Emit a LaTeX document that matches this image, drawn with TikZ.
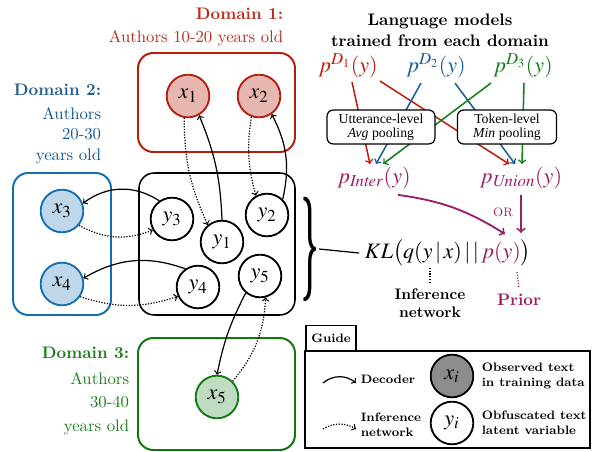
\documentclass[tikz,border=0pt,11pt]{standalone}
\usepackage{amsmath}
\usepackage{mathptmx}
\usepackage[no-math]{fontspec}
\setmainfont{Latin Modern Roman}
\newfontfamily\tms{Liberation Serif}
\usetikzlibrary{positioning,calc}

\definecolor{domred}{RGB}{180,30,10}
\definecolor{domredtext}{RGB}{185,45,30}
\definecolor{domredfill}{RGB}{232,182,176}
\definecolor{domblue}{RGB}{20,110,175}
\definecolor{dombluetext}{RGB}{35,95,140}
\definecolor{dombluefill}{RGB}{190,215,235}
\definecolor{domgreen}{RGB}{15,120,15}
\definecolor{domgreentext}{RGB}{30,125,30}
\definecolor{domgreenfill}{RGB}{192,220,192}
\definecolor{prior}{RGB}{155,30,100}
\definecolor{lmred}{RGB}{190,30,10}
\definecolor{lmblue}{RGB}{25,95,150}
\definecolor{lmgreen}{RGB}{20,125,20}

\begin{document}
\begin{tikzpicture}[x=0.023cm, y=-0.023cm,
    obs/.style={circle, draw, line width=1.2pt, minimum size=0.98cm, inner sep=0pt, font=\Large},
    lat/.style={obs, draw=black, fill=white},
    dombox/.style={rounded corners=10pt, line width=1.3pt},
    dec/.style={->, line width=0.8pt},
    inf/.style={->, densely dotted, line width=0.8pt},
    lm/.style={->, line width=1pt},
    pri/.style={->, line width=1.2pt, draw=prior},
    pool/.style={draw, rounded corners=4pt, fill=white, align=center, font=\tms\footnotesize,
                 line width=0.8pt, inner sep=1pt, minimum height=0.78cm},
    guidetxt/.style={font=\scriptsize\bfseries, align=left, anchor=west, inner sep=1pt}]
\useasboundingbox (0,0) rectangle (592,452);

% domain boxes
\draw[dombox, domred] (138,53) rectangle (295,152);
\draw[dombox, domblue] (13,173) rectangle (111,315);
\draw[dombox, black, line width=1pt] (139,173) rectangle (295,315);
\draw[dombox, domgreen] (138,338) rectangle (295,450);

% domain labels
\node[anchor=east, align=right, text=domredtext] (lab1) at (289,27)
    {\textbf{Domain 1:}\\[1.5pt] Authors 10-20 years old};
\node[anchor=east, align=right, text=dombluetext] (lab2) at (107,124)
    {\textbf{Domain 2:}\\[2pt] \color{domblue!80!black}Authors\\ \color{domblue!80!black}20-30\\ \color{domblue!80!black}years old};
\node[anchor=east, align=right, text=domgreentext] (lab3) at (135,391)
    {\textbf{Domain 3:}\\[3pt] Authors\\[1.5pt] 30-40\\[2pt] years old};

% observed nodes
\node[obs, draw=domred, fill=domredfill] (x1) at (188,96) {$x_1$};
\node[obs, draw=domred, fill=domredfill] (x2) at (259,96) {$x_2$};
\node[obs, draw=domblue, fill=dombluefill] (x3) at (62,211) {$x_3$};
\node[obs, draw=domblue, fill=dombluefill] (x4) at (62,284) {$x_4$};
\node[obs, draw=domgreen, fill=domgreenfill] (x5) at (217,397) {$x_5$};

% latent nodes
\node[lat] (y3) at (172,219) {$y_3$};
\node[lat] (y1) at (222,242) {$y_1$};
\node[lat] (y2) at (267,215) {$y_2$};
\node[lat] (y4) at (198,287) {$y_4$};
\node[lat] (y5) at (260,276) {$y_5$};

% decoder and inference network
\draw[dec] (y1.north) to[bend right=10] (x1.-60);
\draw[inf] (x1.-100) to[bend right=12] (y1.130);
\draw[dec] (y2.45) to[bend right=20] (x2.-55);
\draw[inf] (x2.-110) to[bend right=12] (y2.120);
\draw[dec] (y3.125) to[bend right=35] (x3.20);
\draw[inf] (x3.-40) to[bend right=25] (y3.-150);
\draw[dec] (y4.125) to[bend right=25] (x4.15);
\draw[inf] (x4.-35) to[bend right=18] (y4.-155);
\draw[dec] (y5.-130) to[bend right=8] (x5.north);
\draw[inf] (x5.45) to[bend right=18] (y5.-75);

% language models
\node[font=\bfseries, align=center] (lmtitle) at (440,30) {Language models\\ trained from each domain};
\node[font=\Large, text=lmred] (pd1) at (348,66) {$p^{D_1}(y)$};
\node[font=\Large, text=lmblue] (pd2) at (436,66) {$p^{D_2}(y)$};
\node[font=\Large, text=lmgreen] (pd3) at (523,66) {$p^{D_3}(y)$};

\coordinate (ia1) at (370,164);
\coordinate (ia2) at (376,164);
\coordinate (ia3) at (383,164);
\coordinate (ua1) at (509,164);
\coordinate (ua2) at (515,164);
\coordinate (ua3) at (522,164);
\draw[lm, lmred] ($(pd1.south)+(4,-2)$) -- (ia1);
\draw[lm, lmred] ($(pd1.south)+(32,-3)$) -- (ua1);
\draw[lm, lmblue] ($(pd2.south)+(-15,-1)$) -- (ia2);
\draw[lm, lmblue] ($(pd2.south)+(19,-1)$) -- (ua2);
\draw[lm, lmgreen] ($(pd3.south)+(-32,-1)$) -- (ia3);
\draw[lm, lmgreen] ($(pd3.south)+(1,-1)$) -- (ua3);

\node[pool, minimum width=2.48cm] (avg) at (381,127) {Utterance-level\\[-2pt] {\itshape Avg} pooling};
\node[pool, minimum width=2.28cm] (min) at (507,127) {Token-level\\[-2pt] {\itshape Min} pooling};

\node[font=\Large, text=prior] (inter) at (374,178) {$p_{\mathit{Inter}}(y)$};
\node[font=\Large, text=prior] (union) at (521,178) {$p_{\mathit{Union}}(y)$};

% objective
\node[inner sep=0pt] (brace) at (310,249) {\resizebox{0.4cm}{1.8cm}{\bfseries\}}};
\node[font=\Large] (kl) at (448,253) {$KL\big(q(y\,|\,x)\,|\,|\,\textcolor{prior}{p(y)}\big)$};
\draw[line width=0.8pt] (brace.east) -- (kl.west);

\coordinate (pya) at (505,234);
\coordinate (pyb) at (521,233);
\draw[pri] (inter.-35) to[bend left=12] (pya);
\draw[pri] (union.south) -- (pyb);
\node[font=\scriptsize, text=prior] (or) at (503,212) {OR};

\coordinate (qy) at (430,268);
\node[font=\small\bfseries, align=center] (infnet) at (430,303) {Inference\\[0pt] network};
\draw[densely dotted, line width=0.8pt] (qy) -- (infnet.north);
\coordinate (pp) at (517,272);
\node[font=\bfseries, text=prior] (prior) at (519,300) {Prior};
\draw[densely dotted, line width=0.8pt, prior] (pp) -- (prior.north);

% guide
\node[draw, line width=1.3pt, minimum width=1.1cm, minimum height=0.575cm, font=\scriptsize\bfseries] (guide) at (331,338) {Guide};
\draw[line width=1.3pt] (guide.south west) rectangle (590,448);
\coordinate (g1a) at (323,383);
\coordinate (g1b) at (356,383);
\coordinate (g2a) at (323,429);
\coordinate (g2b) at (356,429);
\draw[dec] (g1a) to[bend left=40] (g1b);
\draw[inf] (g2a) to[bend left=30] (g2b);
\node[guidetxt] (gdec) at (359,379) {Decoder};
\node[guidetxt] (ginf) at (359,425) {Inference\\ network};
\node[obs, draw=black, fill=black!45] (xi) at (452,376) {$x_i$};
\node[lat] (yi) at (452,423) {$y_i$};
\node[guidetxt] (gobs) at (480,376) {Observed text\\ in training data};
\node[guidetxt] (glat) at (480,423) {Obfuscated text\\ latent variable};
\end{tikzpicture}
\end{document}
